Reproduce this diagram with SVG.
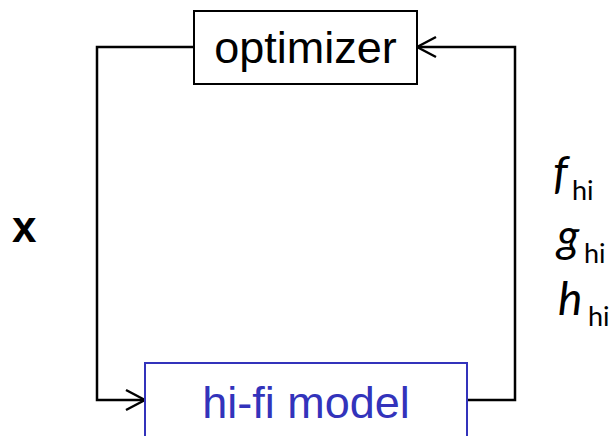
<svg xmlns="http://www.w3.org/2000/svg" width="613" height="436" viewBox="0 0 613 436">
<defs>
<style>
.conn{fill:none;stroke:#000;stroke-width:2.5;stroke-linejoin:miter}
.lbl{font-family:"Liberation Sans",Arial,sans-serif}
.math{font-family:Lato,"Open Sans",sans-serif;fill:#000;font-size:46px;font-style:italic}
.sub{font-size:27px;font-style:normal}
</style>
<marker id="arr" viewBox="0 0 22 24" refX="20" refY="12" markerWidth="22" markerHeight="24" markerUnits="userSpaceOnUse" orient="auto">
<path d="M1,2 L20,12 L1,22" fill="none" stroke="#000" stroke-width="2.5"/>
</marker>
</defs>
<rect width="613" height="436" fill="#fff"/>
<g id="connectors">
<path class="conn" d="M194,47 H97 V400 H145" marker-end="url(#arr)"/>
<path class="conn" d="M467,400 H515 V47 H417" marker-end="url(#arr)"/>
</g>
<g id="optimizer">
<rect x="194" y="11" width="223" height="73" fill="#fff" stroke="#000" stroke-width="2"/>
<text class="lbl" x="305.5" y="63" font-size="45" text-anchor="middle" fill="#000">optimizer</text>
</g>
<g id="hifi">
<rect x="145" y="363" width="322" height="80" fill="#fff" stroke="#3333bb" stroke-width="2"/>
<text class="lbl" x="306" y="418" font-size="45" text-anchor="middle" fill="#3333bb">hi-fi model</text>
</g>
<g id="x-label">
<text class="lbl" x="12" y="242" font-size="44" font-weight="bold" fill="#000">x</text>
</g>
<g id="outputs">
<text class="math" x="553" y="189">f<tspan class="sub" x="572" dy="11">hi</tspan></text>
<text class="math" x="557" y="252">g<tspan class="sub" x="584" dy="11">hi</tspan></text>
<text class="math" x="558" y="315">h<tspan class="sub" x="588" dy="11">hi</tspan></text>
</g>
</svg>
